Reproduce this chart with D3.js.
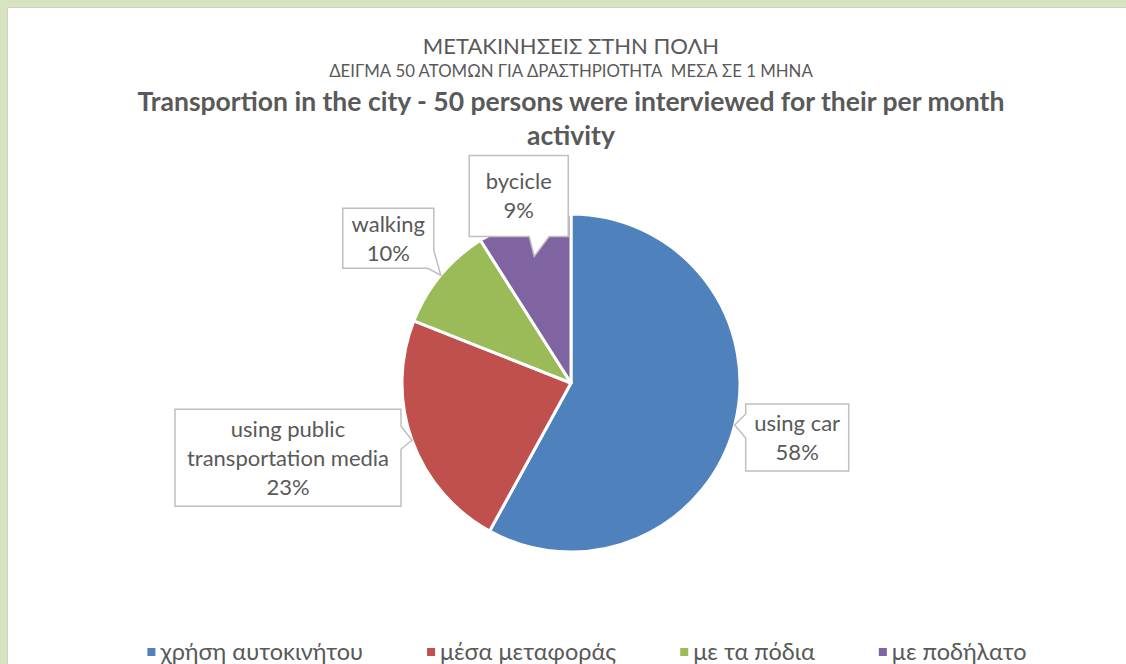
<html>
<head>
<meta charset="utf-8">
<style>
  body { margin: 0; background: #fff; }
  svg text { font-family: Lato, Roboto, "Noto Sans", sans-serif; fill: #595959; }
  .title { font-size: 22px; text-anchor: middle; }
  .subtitle { font-size: 16.8px; text-anchor: middle; }
  .title2 { font-size: 26.5px; font-weight: bold; text-anchor: middle; }
  .callout path { fill: #fff; stroke: #bfbfbf; stroke-width: 1.5; }
  .callout text { font-size: 22px; text-anchor: middle; }
  .legend text { font-size: 23.5px; }
</style>
</head>
<body>
<svg class="chart" width="1126" height="664"></svg>
<script src="https://d3js.org/d3.v7.min.js"></script>
<script>
// data
var categories = ["χρήση αυτοκινήτου", "μέσα μεταφοράς", "με τα πόδια", "με ποδήλατο"];
var values = [58, 23, 10, 9];
var labelLines = [["using car"], ["using public", "transportation media"], ["walking"], ["bycicle"]];
var colors = ["#4f81bd", "#c0504d", "#9bbb59", "#8064a2"];

var width = 1126, height = 664;
var cx = 571, cy = 383, radius = 169;

// callout layout: box offset from pointer tip, size, pointer base on the box outline
var callouts = [
  { tipR: 1.0, dx: 11, dy: -21, w: 103, h: 67, side: "left", a: 34, b: 10 },
  { tipR: 1.0, dx: -237, dy: -31, w: 226, h: 97, side: "right", a: 17, b: 40 },
  { tipR: 1.0, dx: -98, dy: -67, w: 91, h: 60, side: "corner", a: 42, b: 6 },
  { tipR: 0.78, dx: -65, dy: -101, w: 99, h: 81, side: "bottom", a: 80, b: 60 }
];

var svg = d3.select(".chart");

// frame
svg.append("rect").attr("width", width).attr("height", height).style("fill", "#d7e4bd");
svg.append("rect").attr("x", 7.5).attr("y", 7.5).attr("width", width).attr("height", height)
  .style("fill", "#fff").style("stroke", "#d0d0d0").style("stroke-width", 1);

// titles
svg.append("text").attr("class", "title").attr("x", cx).attr("y", 54).text("ΜΕΤΑΚΙΝΗΣΕΙΣ ΣΤΗΝ ΠΟΛΗ");
svg.append("text").attr("class", "subtitle").attr("x", cx).attr("y", 77)
  .attr("xml:space", "preserve").text("ΔΕΙΓΜΑ 50 ΑΤΟΜΩΝ ΓΙΑ ΔΡΑΣΤΗΡΙΟΤΗΤΑ  ΜΕΣΑ ΣΕ 1 ΜΗΝΑ");
svg.append("text").attr("class", "title2").attr("x", cx).attr("y", 111)
  .text("Transportion in the city - 50 persons were interviewed for their per month");
svg.append("text").attr("class", "title2").attr("x", cx).attr("y", 145).text("activity");

// pie
var pie = d3.pie().sort(null).value(function(d) { return d; });
var arc = d3.arc().innerRadius(0).outerRadius(radius);
var arcs = pie(values);

var pieG = svg.append("g").attr("transform", "translate(" + cx + "," + cy + ")");
pieG.selectAll("path")
  .data(arcs)
  .enter()
  .append("path")
  .attr("d", arc)
  .style("fill", function(d, i) { return colors[i]; })
  .style("stroke", "#fff")
  .style("stroke-width", 3)
  .style("stroke-linejoin", "round");

// callouts
function calloutPath(c, tip) {
  var x0 = tip[0] + c.dx, y0 = tip[1] + c.dy, x1 = x0 + c.w, y1 = y0 + c.h;
  var tl = [x0, y0], tr = [x1, y0], br = [x1, y1], bl = [x0, y1];
  var pts;
  if (c.side == "left") {
    pts = [tl, tr, br, bl, [x0, y0 + c.a], tip, [x0, y0 + c.b]];
  } else if (c.side == "right") {
    pts = [tl, tr, [x1, y0 + c.a], tip, [x1, y0 + c.b], br, bl];
  } else if (c.side == "corner") {
    pts = [tl, tr, [x1, y0 + c.a], tip, [x1 - c.b, y1], bl];
  } else {
    pts = [tl, tr, br, [x0 + c.a, y1], tip, [x0 + c.b, y1], bl];
  }
  return "M" + pts.map(function(p) { return p.join(","); }).join("L") + "Z";
}

arcs.forEach(function(d, i) {
  var c = callouts[i];
  var mid = (d.startAngle + d.endAngle) / 2;
  var tip = [cx + Math.sin(mid) * radius * c.tipR, cy - Math.cos(mid) * radius * c.tipR];
  var g = svg.append("g").attr("class", "callout");
  g.append("path").attr("d", calloutPath(c, tip));
  var lines = labelLines[i].concat([values[i] + "%"]);
  var lh = 29;
  var bx = tip[0] + c.dx + c.w / 2;
  var by = tip[1] + c.dy + c.h / 2 - (lines.length - 1) * lh / 2 + 8;
  lines.forEach(function(t, j) {
    g.append("text").attr("x", bx).attr("y", by + j * lh).text(t);
  });
});

// legend
var legend = svg.append("g").attr("class", "legend");
var items = legend.selectAll("g").data(categories).enter().append("g");
items.append("rect").attr("width", 8).attr("height", 8).attr("y", -12)
  .style("fill", function(d, i) { return colors[i]; });
items.append("text").attr("x", 13).attr("y", 0).text(function(d) { return d; });
var lx = 0, gap = 64;
items.each(function() {
  var w = 13 + d3.select(this).select("text").node().getComputedTextLength();
  d3.select(this).attr("transform", "translate(" + lx + ",0)");
  lx += w + gap;
});
var total = lx - gap;
legend.attr("transform", "translate(" + (587 - total / 2) + ",660)");
</script>
</body>
</html>
